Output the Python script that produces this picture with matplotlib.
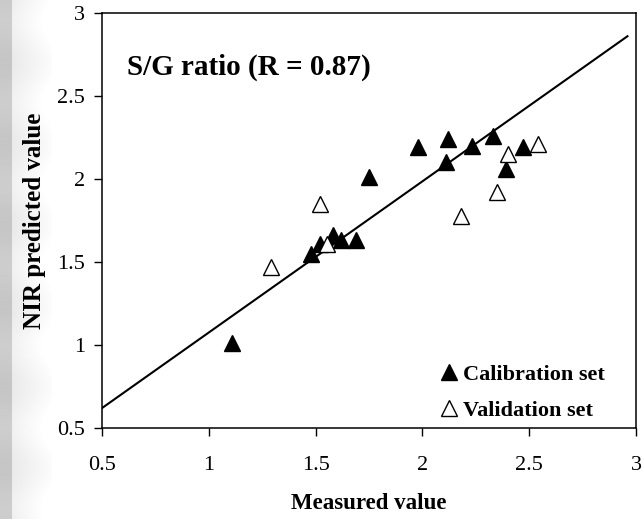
import numpy as np
import matplotlib
matplotlib.use("Agg")
from matplotlib import pyplot as plt
from matplotlib.lines import Line2D

# calibration set (filled triangles)
cal_x = [1.11, 1.48, 1.52, 1.58, 1.62, 1.69, 1.75, 1.98, 2.11, 2.12, 2.23, 2.33, 2.39, 2.47]
cal_y = [1.01, 1.55, 1.61, 1.66, 1.63, 1.63, 2.01, 2.19, 2.10, 2.24, 2.20, 2.26, 2.06, 2.19]

# validation set (open triangles)
val_x = [1.29, 1.52, 1.555, 2.18, 2.35, 2.40, 2.54]
val_y = [1.47, 1.85, 1.61, 1.78, 1.92, 2.15, 2.21]

# fitted line end points
fit_x = [0.5, 2.96]
fit_y = [0.62, 2.86]

x_ticks = [0.5, 1, 1.5, 2, 2.5, 3]
y_ticks = [0.5, 1, 1.5, 2, 2.5, 3]
tick_labels = ["0.5", "1", "1.5", "2", "2.5", "3"]

plt.rcParams['font.family'] = ['Liberation Serif', 'DejaVu Serif']

fig = plt.figure(figsize=(6.43, 5.19), dpi=100)

# textured grey strip on the left edge
bg = fig.add_axes([0, 0, 0.08, 1])
cols = np.linspace(0, 1, 52)
strip = np.where(cols < 0.23, 0.79, 0.93 + 0.07 * (cols - 0.23) / 0.77)
rows = np.linspace(0, 1, 200)
img = strip[None, :] + 0.015 * np.sin(rows[:, None] * 40)[:, :1]
img = np.clip(img, 0, 1)
bg.imshow(img, cmap='gray', vmin=0, vmax=1, aspect='auto', extent=[0, 1, 0, 1])
bg.set_axis_off()

ax = fig.add_axes([102 / 643, 1 - 428 / 519, 534 / 643, 415 / 519])
ax.set_facecolor('white')

ax.plot(fit_x, fit_y, color='black', lw=1.5, zorder=2)
ax.plot(cal_x, cal_y, ls='none', marker='^', ms=11, mfc='black', mec='black', zorder=3)
ax.plot(val_x, val_y, ls='none', marker='^', ms=11, mfc='white', mec='black', mew=1.0, zorder=3)

ax.set_xlim(0.5, 3)
ax.set_ylim(0.5, 3)
ax.set_xticks(x_ticks, tick_labels)
ax.set_yticks(y_ticks, tick_labels)
ax.tick_params(direction='out', length=6, width=1, labelsize=16)
ax.tick_params(axis='x', pad=14)
ax.tick_params(axis='y', pad=6)
for s in ax.spines.values():
    s.set_linewidth(1.1)

ax.set_xlabel('Measured value', fontsize=16.5, fontweight='bold', labelpad=13)
ax.set_ylabel('NIR predicted value', fontsize=18, fontweight='bold', labelpad=8)

ax.text(0.046, 0.87, 'S/G ratio (R = 0.87)', transform=ax.transAxes,
        fontsize=21, fontweight='bold', va='center', ha='left')

handles = [
    Line2D([], [], ls='none', marker='^', ms=11, mfc='black', mec='black'),
    Line2D([], [], ls='none', marker='^', ms=11, mfc='white', mec='black', mew=1.0),
]
ax.legend(handles, ['Calibration set', 'Validation set'], loc='lower right',
          bbox_to_anchor=(0.942, 0.017), frameon=False, handlelength=0.8,
          handletextpad=0.25, labelspacing=0.7, borderaxespad=0, borderpad=0,
          prop={'weight': 'bold', 'size': 16})

plt.savefig('out.png', dpi=100)
